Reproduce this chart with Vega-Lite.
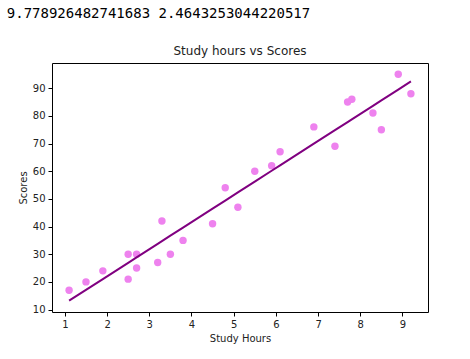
{
  "$schema": "https://vega.github.io/schema/vega-lite/v6.json",
  "padding": {"left": 6, "top": 6, "right": 42, "bottom": 14},
  "background": "white",
  "title": {"text": "9.778926482741683 2.4643253044220517", "anchor": "start", "frame": "bounds", "font": "DejaVu Sans Mono", "fontSize": 14, "fontWeight": "normal", "color": "#000000", "offset": 24, "dx": -11},
  "config": {
    "font": "DejaVu Sans",
    "view": {"stroke": "#000000", "strokeWidth": 1},
    "axis": {"grid": false, "domain": false, "tickColor": "#000000", "tickSize": 4, "labelFontSize": 10, "labelColor": "#222222", "titleFontSize": 10, "titleFontWeight": "normal", "titleColor": "#222222", "labelPadding": 3, "labelFont": "DejaVu Sans", "titleFont": "DejaVu Sans", "labelOverlap": false}
  },
  "data": {"values": [
    {"hours": 2.5, "score": 21, "pred": 26.91},
    {"hours": 5.1, "score": 47, "pred": 52.34},
    {"hours": 3.2, "score": 27, "pred": 33.76},
    {"hours": 8.5, "score": 75, "pred": 85.58},
    {"hours": 3.5, "score": 30, "pred": 36.69},
    {"hours": 1.5, "score": 20, "pred": 17.13},
    {"hours": 9.2, "score": 88, "pred": 92.43},
    {"hours": 5.5, "score": 60, "pred": 56.25},
    {"hours": 8.3, "score": 81, "pred": 83.63},
    {"hours": 2.7, "score": 25, "pred": 28.87},
    {"hours": 7.7, "score": 85, "pred": 77.76},
    {"hours": 5.9, "score": 62, "pred": 60.16},
    {"hours": 4.5, "score": 41, "pred": 46.47},
    {"hours": 3.3, "score": 42, "pred": 34.74},
    {"hours": 1.1, "score": 17, "pred": 13.22},
    {"hours": 8.9, "score": 95, "pred": 89.50},
    {"hours": 2.5, "score": 30, "pred": 26.91},
    {"hours": 1.9, "score": 24, "pred": 21.04},
    {"hours": 6.1, "score": 67, "pred": 62.12},
    {"hours": 7.4, "score": 69, "pred": 74.83},
    {"hours": 2.7, "score": 30, "pred": 28.87},
    {"hours": 4.8, "score": 54, "pred": 49.40},
    {"hours": 3.8, "score": 35, "pred": 39.62},
    {"hours": 6.9, "score": 76, "pred": 69.94},
    {"hours": 7.8, "score": 86, "pred": 78.74}
  ]},
  "vconcat": [
    {
      "width": 376,
      "height": 249,
      "title": {"text": "Study hours vs Scores", "fontSize": 12, "fontWeight": "normal", "color": "#222222", "offset": 5, "font": "DejaVu Sans"},
      "layer": [
        {
          "mark": {"type": "point", "filled": true, "color": "#EE82EE", "opacity": 1, "size": 55},
          "encoding": {
            "x": {"field": "hours", "type": "quantitative", "title": "Study Hours", "scale": {"domain": [0.695, 9.605], "nice": false, "zero": false}, "axis": {"values": [1, 2, 3, 4, 5, 6, 7, 8, 9], "tickCount": 20, "format": "d"}},
            "y": {"field": "score", "type": "quantitative", "title": "Scores", "scale": {"domain": [9.13, 99.09], "nice": false, "zero": false}, "axis": {"values": [10, 20, 30, 40, 50, 60, 70, 80, 90], "tickCount": 20, "format": "d"}}
          }
        },
        {
          "mark": {"type": "line", "color": "#800080", "strokeWidth": 2},
          "encoding": {
            "x": {"field": "hours", "type": "quantitative"},
            "y": {"field": "pred", "type": "quantitative"},
            "order": {"field": "hours", "type": "quantitative"}
          }
        }
      ]
    }
  ]
}
